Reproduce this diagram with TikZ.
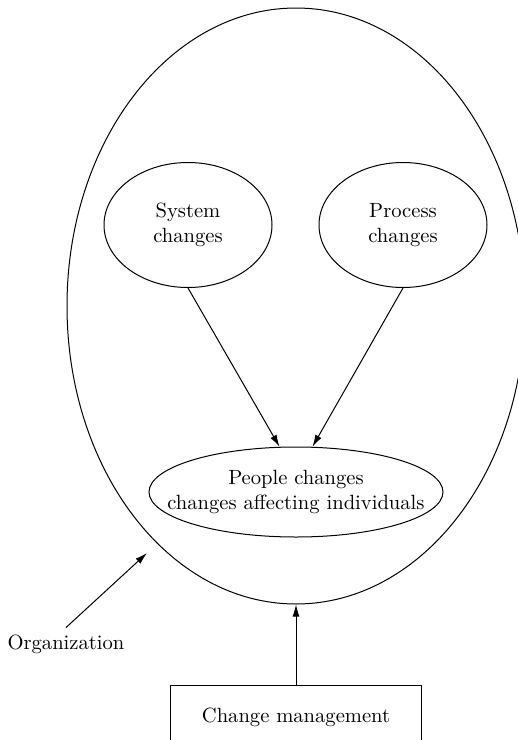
\documentclass[tikz,border=0pt]{standalone}
\usepackage{tikz}
\usetikzlibrary{positioning}
\usetikzlibrary{shapes.geometric}
\usetikzlibrary{arrows.meta}

\begin{document}
\begin{tikzpicture}[
							x=0.5pt, y=-0.5pt,
							ovalnode/.style={ellipse, draw=black, line width=0.5pt, inner sep=0pt, align=center, font=\fontsize{10.3}{12.5}\selectfont},
							boxnode/.style={rectangle, draw=black, line width=0.5pt, minimum width=125.5pt, minimum height=32pt, font=\fontsize{10.3}{12.5}\selectfont},
							arrowline/.style={line width=0.5pt, -{Latex[length=6pt,width=3.5pt]}},
							]
							\useasboundingbox (0,0) rectangle (518,740);
							%Nodes
							\node[ovalnode, minimum width=229pt, minimum height=298pt]      (org) 	at 	(296,306)           {};
							\node[ovalnode, minimum width=84pt, minimum height=62.5pt]      (sys) 	at 	(188,225)           {System\\changes};
							\node[ovalnode, minimum width=84pt, minimum height=62.5pt]      (proc) 	at 	(403,225)           {Process\\changes};
							\node[ovalnode, minimum width=147pt, minimum height=45pt,
								label={[align=center, font=\fontsize{10.3}{12.5}\selectfont]center:People changes\\changes affecting individuals}]
								(ppl) 	at 	(296,492)           {};
							\node[font=\fontsize{10.3}{12.5}\selectfont]           (label) 	at	(66,644) 		{Organization};
							\node[boxnode]      (cm) 	at 	(296,717)           {Change management};
							\coordinate (orgtip) at (147,553);
							
							%Arrows
							\draw[arrowline] (sys.south) --  (ppl.110);
							\draw[arrowline] (proc.south) --  (ppl.70);
							\draw[arrowline] (label.north) --  (orgtip);
							\draw[arrowline] (cm.north) --  (org.south);
						\end{tikzpicture}
\end{document}
